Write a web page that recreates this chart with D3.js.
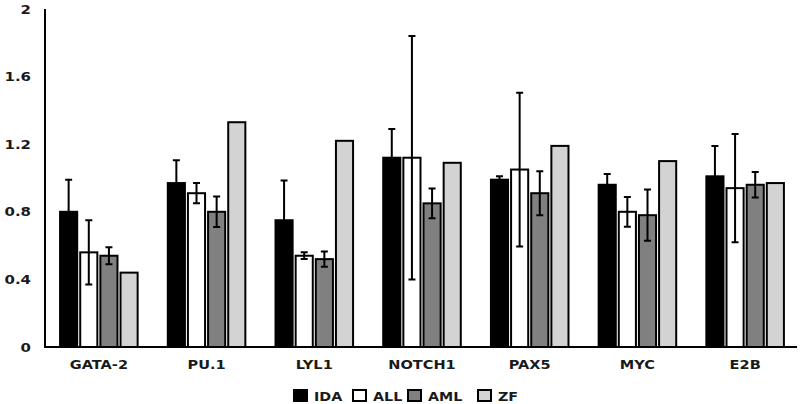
<!DOCTYPE html>
<html lang="en">
<meta charset="utf-8">
<head>
	<title>Gene expression</title>
	<script src="https://cdn.jsdelivr.net/npm/d3@7"></script>
</head>
<style type="text/css">
	body { margin: 0; background: white; }

	.tickLabel, .catLabel, .legendLabel {
		font-family: 'DejaVu Sans', sans-serif;
		font-weight: bold;
		font-size: 13px;
		fill: #1a1a1a;
	}

	.bar {
		stroke: black;
		stroke-width: 2;
	}

	.err {
		stroke: black;
		stroke-width: 2;
		fill: none;
	}

	.axisLine {
		stroke: black;
		stroke-width: 2;
	}
</style>
<body>
	<script type="text/javascript">

		var genes = ["GATA-2", "PU.1", "LYL1", "NOTCH1", "PAX5", "MYC", "E2B"];
		var groups = ["IDA", "ALL", "AML", "ZF"];
		var colours = ["black", "white", "#808080", "#d3d3d3"];
		var yTicks = [0, 0.4, 0.8, 1.2, 1.6, 2];

		// mean values per gene, one array per group
		var ida = [0.80, 0.97, 0.75, 1.12, 0.99, 0.96, 1.01];
		var all = [0.56, 0.91, 0.54, 1.12, 1.05, 0.80, 0.94];
		var aml = [0.54, 0.80, 0.52, 0.85, 0.91, 0.78, 0.96];
		var zf  = [0.44, 1.33, 1.22, 1.09, 1.19, 1.10, 0.97];

		// error (+/-); zf has none
		var idaErr = [0.19, 0.135, 0.235, 0.17, 0.02, 0.063, 0.18];
		var allErr = [0.19, 0.06, 0.02, 0.72, 0.455, 0.088, 0.32];
		var amlErr = [0.05, 0.09, 0.045, 0.088, 0.13, 0.152, 0.075];
		var zfErr  = [0, 0, 0, 0, 0, 0, 0];

		var values = [ida, all, aml, zf],
			errors = [idaErr, allErr, amlErr, zfErr];

		var w = 800, h = 404;

		var svg = d3.select("body")
					.append("svg")
					.attr("width", w)
					.attr("height", h);

		var x = d3.scaleBand()
				  .domain(genes)
				  .range([45, 799])
				  .paddingInner(0.28)
				  .paddingOuter(0.14);

		var xInner = d3.scaleBand()
					   .domain(groups)
					   .range([0, x.bandwidth()])
					   .paddingInner(0.15);

		var y = d3.scaleLinear()
				  .domain([0, 2])
				  .range([347, 9]);

		// bars
		for (var g = 0; g < groups.length; g++) {
			var data = genes.map(function(d, i) { return {gene: d, v: values[g][i], e: errors[g][i]}; });

			svg.selectAll(".bar" + g)
			   .data(data)
			   .enter()
			   .append("rect")
			   .attr("class", "bar bar" + g)
			   .attr("x", function(d) { return x(d.gene) + xInner(groups[g]); })
			   .attr("y", function(d) { return y(d.v); })
			   .attr("width", xInner.bandwidth())
			   .attr("height", function(d) { return y(0) - y(d.v); })
			   .attr("fill", colours[g]);

			// error bars
			var errData = data.filter(function(d) { return d.e > 0; });
			var cx = function(d) { return x(d.gene) + xInner(groups[g]) + xInner.bandwidth() / 2; };

			svg.selectAll(".errLine" + g)
			   .data(errData)
			   .enter()
			   .append("path")
			   .attr("class", "err")
			   .attr("d", function(d) {
			   		var c = cx(d), t = y(d.v + d.e), b = y(d.v - d.e);
			   		return "M" + c + "," + t + "V" + b +
			   			   "M" + (c - 3.5) + "," + t + "H" + (c + 3.5) +
			   			   "M" + (c - 3.5) + "," + b + "H" + (c + 3.5);
			   });
		}

		// axes
		svg.append("line")
		   .attr("class", "axisLine")
		   .attr("x1", 45).attr("x2", 45)
		   .attr("y1", y(2)).attr("y2", y(0) + 1);

		svg.append("line")
		   .attr("class", "axisLine")
		   .attr("x1", 44).attr("x2", 797)
		   .attr("y1", y(0)).attr("y2", y(0));

		svg.selectAll(".tickLabel")
		   .data(yTicks)
		   .enter()
		   .append("text")
		   .attr("class", "tickLabel")
		   .attr("text-anchor", "end")
		   .attr("transform", function(d) { return "translate(31," + (y(d) + 4.5) + ")scale(1.15,1)"; })
		   .text(function(d) { return d3.format("")(d); });

		svg.selectAll(".catLabel")
		   .data(genes)
		   .enter()
		   .append("text")
		   .attr("class", "catLabel")
		   .attr("text-anchor", "middle")
		   .attr("transform", function(d) { return "translate(" + (x(d) + x.bandwidth() / 2) + ",369)scale(1.12,1)"; })
		   .text(function(d) { return d; });

		// legend
		var legendX = [294, 353, 408, 478];
		var legend = svg.selectAll(".legendItem")
						.data(groups)
						.enter()
						.append("g")
						.attr("transform", function(d, i) { return "translate(" + legendX[i] + ",390)"; });

		legend.append("rect")
			  .attr("class", "bar")
			  .attr("width", 13)
			  .attr("height", 11)
			  .attr("fill", function(d, i) { return colours[i]; });

		legend.append("text")
			  .attr("class", "legendLabel")
			  .attr("transform", "translate(20,10.5)scale(1.1,1)")
			  .text(function(d) { return d; });

	</script>
</body>
</html>
